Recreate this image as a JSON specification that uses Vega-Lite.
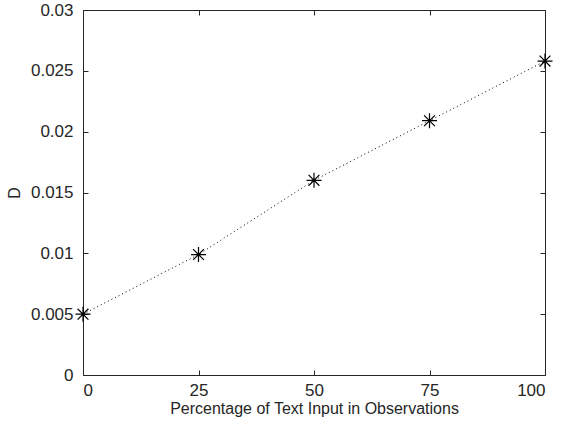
{
  "$schema": "https://vega.github.io/schema/vega-lite/v6.json",
  "width": 462,
  "height": 365,
  "autosize": {"type": "none"},
  "padding": {"left": 83, "top": 10, "right": 16, "bottom": 51},
  "background": "white",
  "config": {
    "view": {"stroke": null},
    "font": "Liberation Sans",
    "axis": {
      "grid": false,
      "domainColor": "#262626",
      "domainWidth": 1,
      "tickColor": "#262626",
      "tickWidth": 1,
      "tickSize": -5,
      "labelFont": "Liberation Sans",
      "labelFontSize": 17,
      "labelColor": "#262626",
      "titleFont": "Liberation Sans",
      "titleFontSize": 16,
      "titleFontWeight": "normal",
      "titleColor": "#262626"
    }
  },
  "data": {
    "values": [
      {"pct": 0, "D": 0.005},
      {"pct": 25, "D": 0.0099},
      {"pct": 50, "D": 0.016},
      {"pct": 75, "D": 0.0209},
      {"pct": 100, "D": 0.0258}
    ]
  },
  "layer": [
    {
      "mark": {"type": "line", "color": "#000000", "strokeWidth": 1, "strokeDash": [1, 3]},
      "encoding": {
        "x": {
          "field": "pct", "type": "quantitative",
          "scale": {"domain": [0, 100], "nice": false, "zero": false},
          "axis": {"orient": "bottom", "values": [0, 25, 50, 75, 100], "title": "Percentage of Text Input in Observations", "labelPadding": 12, "titlePadding": 2}
        },
        "y": {
          "field": "D", "type": "quantitative",
          "scale": {"domain": [0, 0.03], "nice": false},
          "axis": {"orient": "left", "values": [0, 0.005, 0.01, 0.015, 0.02, 0.025, 0.03], "format": "~g", "title": "D", "labelPadding": 15, "titlePadding": 8}
        }
      }
    },
    {
      "mark": {"type": "point", "shape": "M-1,0L1,0M0,-1L0,1M-0.72,-0.72L0.72,0.72M-0.72,0.72L0.72,-0.72", "filled": false, "stroke": "#000000", "strokeWidth": 1.2, "size": 225, "opacity": 1},
      "encoding": {
        "x": {
          "field": "pct", "type": "quantitative",
          "scale": {"domain": [0, 100], "nice": false, "zero": false},
          "axis": {"orient": "top", "values": [0, 25, 50, 75, 100], "labels": false, "title": null}
        },
        "y": {
          "field": "D", "type": "quantitative",
          "scale": {"domain": [0, 0.03], "nice": false},
          "axis": {"orient": "right", "values": [0, 0.005, 0.01, 0.015, 0.02, 0.025, 0.03], "labels": false, "title": null}
        }
      }
    }
  ],
  "resolve": {"axis": {"x": "independent", "y": "independent"}}
}
